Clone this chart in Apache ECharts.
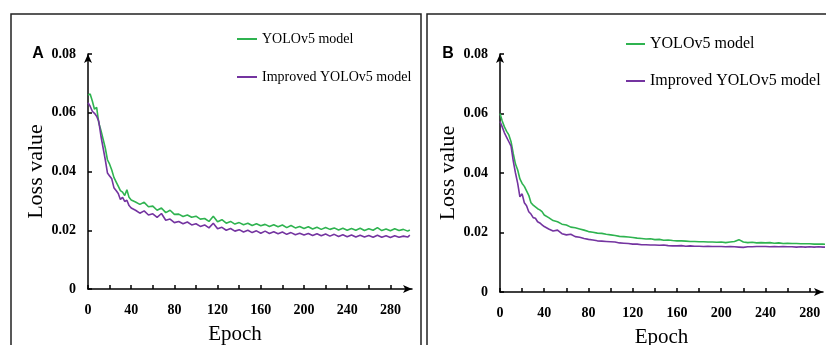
<!DOCTYPE html>
<html>
<head>
<meta charset="utf-8">
<script src="https://cdn.jsdelivr.net/npm/echarts@6/dist/echarts.min.js"></script>
<style>
  html, body { margin: 0; padding: 0; background: #fff; overflow: hidden; }
  #chart { width: 826px; height: 345px; }
</style>
</head>
<body>
<div id="chart"></div>
<script>
// epochs sampled from the curves (dense at the start, every 4 after)
const epochs = [
  0, 2, 4, 6, 8, 10, 12, 14, 16, 18, 20, 22, 24, 26, 28, 30, 32, 34, 36, 38, 40,
  44, 48, 52, 56, 60, 64, 68, 72, 76, 80, 84, 88, 92, 96, 100,
  104, 108, 112, 116, 120, 124, 128, 132, 136, 140, 144, 148, 152, 156, 160,
  164, 168, 172, 176, 180, 184, 188, 192, 196, 200, 204, 208, 212, 216, 220,
  224, 228, 232, 236, 240, 244, 248, 252, 256, 260, 264, 268, 272, 276, 280,
  284, 288, 292, 296, 298
]

// panel A
const yoloA = [
  0.0660, 0.0664, 0.0640, 0.0612, 0.0618, 0.0565, 0.0540, 0.0510, 0.0480, 0.0440, 0.0425, 0.0405, 0.0380, 0.0365, 0.0350, 0.0335, 0.0330, 0.0318, 0.0338, 0.0312, 0.0303,
  0.0296, 0.0288, 0.0295, 0.0280, 0.0282, 0.0268, 0.0276, 0.0260, 0.0268, 0.0254, 0.0255, 0.0247, 0.0252, 0.0244, 0.0248,
  0.0238, 0.0240, 0.0230, 0.0248, 0.0229, 0.0236, 0.0224, 0.0230, 0.0221, 0.0226, 0.0219, 0.0224, 0.0216, 0.0222, 0.0215,
  0.0220, 0.0213, 0.0219, 0.0212, 0.0218, 0.0209, 0.0216, 0.0208, 0.0213, 0.0206, 0.0212, 0.0204, 0.0210, 0.0203, 0.0209,
  0.0203, 0.0208, 0.0201, 0.0207, 0.0200, 0.0206, 0.0200, 0.0207, 0.0199, 0.0205, 0.0200, 0.0209, 0.0199, 0.0204, 0.0198,
  0.0205, 0.0199, 0.0203, 0.0197, 0.0201
]
const improvedA = [
  0.0634, 0.0622, 0.0605, 0.0598, 0.0588, 0.0570, 0.0520, 0.0480, 0.0440, 0.0395, 0.0385, 0.0375, 0.0345, 0.0335, 0.0325, 0.0305, 0.0312, 0.0298, 0.0302, 0.0284, 0.0276,
  0.0268, 0.0258, 0.0266, 0.0252, 0.0256, 0.0244, 0.0257, 0.0234, 0.0238, 0.0226, 0.0230, 0.0222, 0.0228, 0.0218, 0.0222,
  0.0213, 0.0218, 0.0208, 0.0224, 0.0205, 0.0210, 0.0200, 0.0206, 0.0197, 0.0202, 0.0194, 0.0200, 0.0192, 0.0198, 0.0190,
  0.0197, 0.0189, 0.0195, 0.0188, 0.0194, 0.0186, 0.0192, 0.0185, 0.0190, 0.0184, 0.0189, 0.0182, 0.0188, 0.0181, 0.0187,
  0.0180, 0.0186, 0.0179, 0.0185, 0.0178, 0.0184, 0.0177, 0.0183, 0.0177, 0.0182, 0.0176, 0.0183, 0.0176, 0.0181, 0.0175,
  0.0181, 0.0176, 0.0180, 0.0177, 0.0183
]

// panel B
const yoloB = [
  0.0600, 0.0575, 0.0555, 0.0540, 0.0528, 0.0505, 0.0465, 0.0430, 0.0410, 0.0380, 0.0365, 0.0355, 0.0340, 0.0325, 0.0300, 0.0292, 0.0286, 0.0280, 0.0276, 0.0270, 0.0259,
  0.0250, 0.0240, 0.0236, 0.0228, 0.0225, 0.0218, 0.0216, 0.0212, 0.0208, 0.0203, 0.0201, 0.0198, 0.0197, 0.0194, 0.0192,
  0.0190, 0.0187, 0.0186, 0.0185, 0.0183, 0.0181, 0.0180, 0.0178, 0.0179, 0.0176, 0.0177, 0.0174, 0.0175, 0.0173, 0.0172,
  0.0172, 0.0171, 0.0170, 0.0170, 0.0169, 0.0169, 0.0168, 0.0168, 0.0167, 0.0168, 0.0166, 0.0168, 0.0170, 0.0176, 0.0168,
  0.0166, 0.0167, 0.0165, 0.0166, 0.0165, 0.0166, 0.0164, 0.0165, 0.0163, 0.0164, 0.0163, 0.0163, 0.0162, 0.0162, 0.0162,
  0.0161, 0.0161, 0.0161, 0.0160, 0.0160
]
const improvedB = [
  0.0573, 0.0555, 0.0535, 0.0520, 0.0505, 0.0490, 0.0440, 0.0400, 0.0365, 0.0320, 0.0330, 0.0300, 0.0290, 0.0270, 0.0262, 0.0250, 0.0248, 0.0236, 0.0232, 0.0226, 0.0220,
  0.0212, 0.0205, 0.0208, 0.0196, 0.0192, 0.0194, 0.0186, 0.0184, 0.0180, 0.0177, 0.0175, 0.0172, 0.0171, 0.0170, 0.0169,
  0.0168, 0.0165, 0.0164, 0.0163, 0.0161, 0.0161, 0.0159, 0.0159, 0.0158, 0.0158, 0.0157, 0.0158, 0.0156, 0.0155, 0.0155,
  0.0156, 0.0154, 0.0155, 0.0154, 0.0154, 0.0153, 0.0154, 0.0153, 0.0153, 0.0153, 0.0152, 0.0153, 0.0152, 0.0151, 0.0150,
  0.0152, 0.0152, 0.0153, 0.0153, 0.0153, 0.0152, 0.0153, 0.0152, 0.0153, 0.0152, 0.0152, 0.0151, 0.0152, 0.0151, 0.0152,
  0.0151, 0.0152, 0.0151, 0.0151, 0.0151
]

const seriesNames = ['YOLOv5 model', 'Improved YOLOv5 model']
const colors = ['#2fb350', '#7434a0']
const serif = '"Times New Roman", "Liberation Serif", serif'

const pairs = (vals) => vals.map((v, i) => [epochs[i], v])

const chart = echarts.init(document.getElementById('chart'))

const xAxisBase = (gridIndex, max, namePadding) => ({
  type: 'value',
  gridIndex,
  min: 0,
  max,
  interval: 20,
  name: 'Epoch',
  nameLocation: 'middle',
  nameGap: 35,
  nameTextStyle: { fontFamily: serif, fontSize: 21, color: '#000', padding: namePadding },
  axisLine: {
    show: true,
    symbol: ['none', 'arrow'],
    symbolSize: [6, 9],
    lineStyle: { color: '#000', width: 1.5 },
  },
  axisTick: { show: true, inside: true, length: 4, lineStyle: { color: '#000', width: 1.5 } },
  axisLabel: {
    margin: 14,
    fontFamily: serif,
    fontWeight: 'bold',
    fontSize: 14,
    color: '#000',
    showMaxLabel: false,
    formatter: (v) => (v % 40 === 0 ? String(v) : ''),
  },
  splitLine: { show: false },
})

const yAxisBase = (gridIndex) => ({
  type: 'value',
  gridIndex,
  min: 0,
  max: 0.08,
  interval: 0.02,
  name: 'Loss value',
  nameLocation: 'middle',
  nameGap: 38,
  nameRotate: 90,
  nameTextStyle: { fontFamily: serif, fontSize: 22, color: '#000' },
  axisLine: {
    show: true,
    symbol: ['none', 'arrow'],
    symbolSize: [6, 9],
    lineStyle: { color: '#000', width: 1.5 },
  },
  axisTick: { show: true, inside: true, length: 4, lineStyle: { color: '#000', width: 1.5 } },
  axisLabel: {
    margin: 12,
    fontFamily: serif,
    fontWeight: 'bold',
    fontSize: 14,
    color: '#000',
    formatter: (v) => (v === 0 ? '0' : v.toFixed(2)),
  },
  splitLine: { show: false },
})

const lineSeries = (name, color, data, idx) => ({
  type: 'line',
  name,
  xAxisIndex: idx,
  yAxisIndex: idx,
  data,
  symbol: 'none',
  clip: true,
  lineStyle: { color, width: 1.6 },
  itemStyle: { color },
})

const option = {
  backgroundColor: '#fff',
  animation: false,
  grid: [
    { left: 88, right: 414, top: 54, bottom: 56, outerBoundsMode: 'none', containLabel: false },
    { left: 500, right: 3, top: 54, bottom: 53, outerBoundsMode: 'none', containLabel: false },
  ],
  xAxis: [xAxisBase(0, 300, [0, 30, 0, 0]), xAxisBase(1, 292, 0)],
  yAxis: [yAxisBase(0), yAxisBase(1)],
  legend: [
    {
      left: 232,
      top: 27,
      orient: 'vertical',
      icon: 'rect',
      itemWidth: 20,
      itemHeight: 2,
      itemGap: 24,
      selectedMode: false,
      data: seriesNames,
      textStyle: { fontFamily: serif, fontSize: 14, color: '#000' },
    },
    {
      left: 621,
      top: 31,
      orient: 'vertical',
      icon: 'rect',
      itemWidth: 19,
      itemHeight: 2,
      itemGap: 21,
      selectedMode: false,
      data: seriesNames,
      textStyle: { fontFamily: serif, fontSize: 16, color: '#000' },
    },
  ],
  graphic: [
    // panel frames
    { type: 'rect', shape: { x: 11, y: 14, width: 410, height: 360 }, style: { fill: null, stroke: '#222', lineWidth: 1.5 }, silent: true },
    { type: 'rect', shape: { x: 427, y: 14, width: 420, height: 360 }, style: { fill: null, stroke: '#222', lineWidth: 1.5 }, silent: true },
    // panel letters
    { type: 'text', x: 38, y: 54, style: { text: 'A', font: 'bold 16px "Liberation Sans", Arial, sans-serif', fill: '#000', align: 'center', verticalAlign: 'middle' } },
    { type: 'text', x: 448, y: 54, style: { text: 'B', font: 'bold 16px "Liberation Sans", Arial, sans-serif', fill: '#000', align: 'center', verticalAlign: 'middle' } },
  ],
  series: [
    lineSeries(seriesNames[0], colors[0], pairs(yoloA), 0),
    lineSeries(seriesNames[1], colors[1], pairs(improvedA), 0),
    lineSeries(seriesNames[0], colors[0], pairs(yoloB), 1),
    lineSeries(seriesNames[1], colors[1], pairs(improvedB), 1),
  ],
}

chart.setOption(option)
</script>
</body>
</html>
